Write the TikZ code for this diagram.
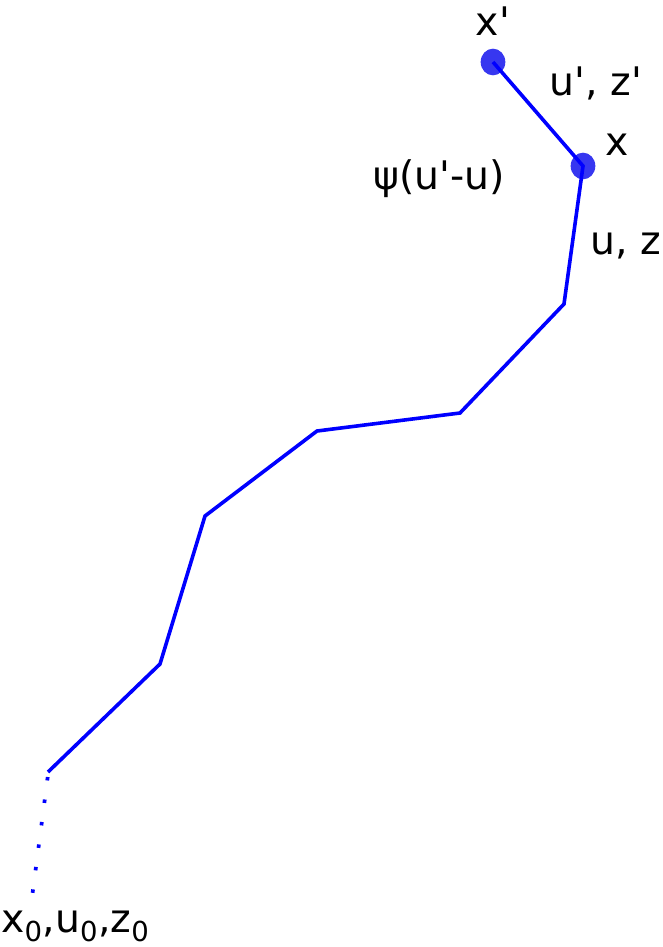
\documentclass[tikz,border=0pt]{standalone}
\usepackage{fontspec}
\setmainfont{DejaVu Sans}[Ligatures=TeXOff]
\usetikzlibrary{shapes.geometric}
\begin{document}
\begin{tikzpicture}[x=0.75pt,y=-0.75pt,
  pathline/.style={draw=blue,line width=2.7pt,line join=miter},
  dotline/.style={draw=blue,line width=2.8pt,dash pattern=on 2.6pt off 14.4pt},
  vertex/.style={ellipse,fill={rgb,255:red,55;green,55;blue,240},minimum width=18.5pt,minimum height=20pt,inner sep=0pt},
  lbl/.style={inner sep=0pt,anchor=base,font=\fontsize{29.5}{36}\selectfont}]
\useasboundingbox (0,0) rectangle (663,947);
\node[vertex] (xp) at (493,62) {};
\node[vertex] (x) at (583,166) {};
\coordinate (p1) at (564,304);
\coordinate (p2) at (460,413);
\coordinate (p3) at (317,431);
\coordinate (p4) at (205,516);
\coordinate (p5) at (160,664);
\coordinate (p6) at (48,772);
\coordinate (p7) at (31,905);
\draw[pathline] (xp.center) -- (x.center) -- (p1) -- (p2) -- (p3) -- (p4) -- (p5) -- (p6);
\draw[dotline] (p6) ++(-0.3,5) -- (p7);
\node[lbl] (lxp) at (493,35) {x'};
\node[lbl] (luz1) at (596,95) {u', z'};
\node[lbl] (lx) at (617,155) {x};
\node[lbl] (lpsi) at (439,189) {ψ(u'-u)};
\node[lbl,anchor=base east] (luz) at (661,254) {u, z};
\node[lbl,anchor=base west] (l0) at (1,932) {x\textsubscript{0},u\textsubscript{0},z\textsubscript{0}};
\end{tikzpicture}
\end{document}
